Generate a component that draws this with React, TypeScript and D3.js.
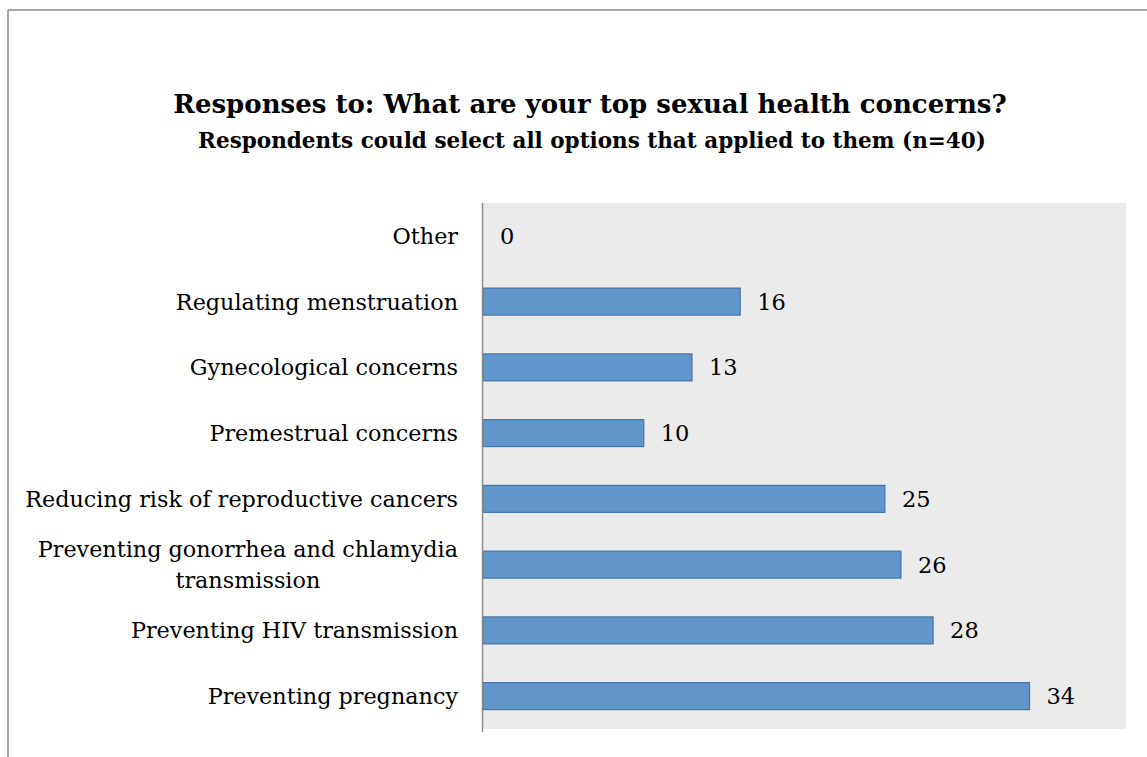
import React, { useEffect, useRef } from "react";
import * as d3 from "d3";

const categories: string[][] = [
  ["Other"],
  ["Regulating menstruation"],
  ["Gynecological concerns"],
  ["Premestrual concerns"],
  ["Reducing risk of reproductive cancers"],
  ["Preventing gonorrhea and chlamydia", "transmission"],
  ["Preventing HIV transmission"],
  ["Preventing pregnancy"],
];
const values: number[] = [0, 16, 13, 10, 25, 26, 28, 34];
const xDomainMax = 40;
const titleText = "Responses to: What are your top sexual health concerns?";
const subtitleText = "Respondents could select all options that applied to them (n=40)";

const W = 1147;
const H = 757;
const plot = { left: 483, right: 1126, top: 203, bottom: 729 };
const FONT = "'DejaVu Serif', serif";

export default function App() {
  const ref = useRef<SVGSVGElement | null>(null);

  useEffect(() => {
    const svg = d3.select(ref.current);
    svg.selectAll("*").remove();

    // frame
    svg.append("line").attr("x1", 8).attr("x2", W).attr("y1", 10).attr("y2", 10)
      .attr("stroke", "#a6a6a6").attr("stroke-width", 2);
    svg.append("line").attr("x1", 8).attr("x2", 8).attr("y1", 10).attr("y2", H)
      .attr("stroke", "#a6a6a6").attr("stroke-width", 2);

    // titles
    svg.append("text").attr("x", 590).attr("y", 113).attr("text-anchor", "middle")
      .attr("font-family", FONT).attr("font-weight", "bold").attr("font-size", 26)
      .attr("fill", "#000").text(titleText);
    svg.append("text").attr("x", 592).attr("y", 148).attr("text-anchor", "middle")
      .attr("font-family", FONT).attr("font-weight", "bold").attr("font-size", 21.5)
      .attr("fill", "#000").text(subtitleText);

    const x = d3.scaleLinear().domain([0, xDomainMax]).range([plot.left, plot.right]);
    const y = d3.scaleBand<number>()
      .domain(d3.range(categories.length))
      .range([plot.top, plot.bottom])
      .paddingInner(0.59)
      .paddingOuter(0.295);

    svg.append("rect").attr("x", plot.left).attr("y", plot.top)
      .attr("width", plot.right - plot.left).attr("height", plot.bottom - plot.top)
      .attr("fill", "#ebebeb");

    // bars
    svg.append("g").selectAll("rect").data(values).join("rect")
      .attr("x", x(0))
      .attr("y", (_d, i) => y(i)!)
      .attr("width", (d) => Math.max(0, x(d) - x(0)))
      .attr("height", y.bandwidth())
      .attr("fill", (d) => (d > 0 ? "#6096cb" : "none"))
      .attr("stroke", (d) => (d > 0 ? "#4674aa" : "none"))
      .attr("stroke-width", 1.2);

    // value labels
    svg.append("g").selectAll("text").data(values).join("text")
      .attr("x", (d) => x(d) + 17)
      .attr("y", (_d, i) => y(i)! + y.bandwidth() / 2)
      .attr("dy", "0.36em")
      .attr("font-family", FONT).attr("font-size", 22.5).attr("fill", "#000")
      .text((d) => String(d));

    // axis line
    svg.append("line").attr("x1", plot.left - 0.5).attr("x2", plot.left - 0.5)
      .attr("y1", plot.top).attr("y2", plot.bottom + 3)
      .attr("stroke", "#8c8c8c").attr("stroke-width", 1.5);

    // category labels
    const labelRight = 458;
    const lineH = 31;
    categories.forEach((lines, i) => {
      const cy = y(i)! + y.bandwidth() / 2;
      const g = svg.append("g");
      const n = lines.length;
      const texts = lines.map((ln, j) =>
        g.append("text")
          .attr("y", cy + (j - (n - 1) / 2) * lineH)
          .attr("dy", "0.36em")
          .attr("font-family", FONT).attr("font-size", 22.3).attr("fill", "#000")
          .text(ln)
      );
      const widths = texts.map((t) => (t.node() as SVGTextElement).getComputedTextLength());
      const maxW = d3.max(widths) ?? 0;
      const center = labelRight - maxW / 2;
      texts.forEach((t) => t.attr("x", center).attr("text-anchor", "middle"));
    });
  }, []);

  return (
    <div style={{ position: "absolute", left: 0, top: 0, width: W, height: H, background: "#fff" }}>
      <svg ref={ref} width={W} height={H} />
    </div>
  );
}
